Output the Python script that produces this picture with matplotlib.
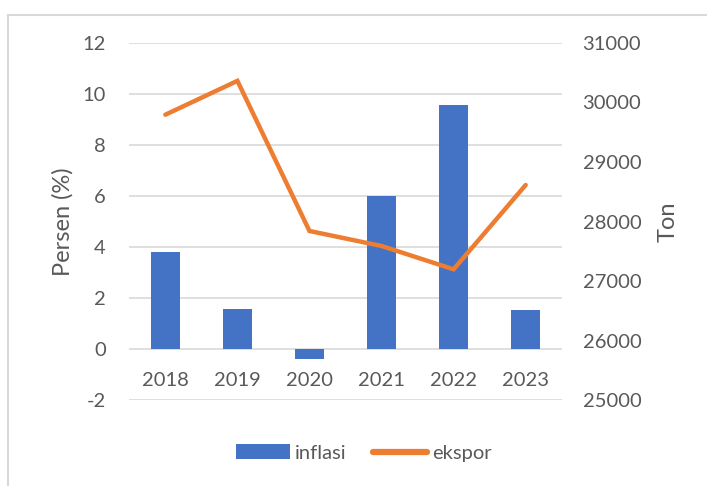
import matplotlib
matplotlib.use("Agg")
import matplotlib.pyplot as plt
from matplotlib.patches import Rectangle, Patch
from matplotlib.lines import Line2D

years = ["2018", "2019", "2020", "2021", "2022", "2023"]
inflasi = [3.81, 1.58, -0.39, 5.99, 9.55, 1.53]
ekspor = [29792, 30360, 27842, 27590, 27199, 28613]

left_ticks = [-2, 0, 2, 4, 6, 8, 10, 12]
right_ticks = [25000, 26000, 27000, 28000, 29000, 30000, 31000]

TXT = "#595959"
GRID = "#d9d9d9"
BLUE = "#4472c4"
ORANGE = "#ed7d31"
FONT = ["Lato", "DejaVu Sans"]

plt.rcParams["font.family"] = FONT

fig = plt.figure(figsize=(7.07, 4.86), dpi=100)
fig.patches.append(Rectangle((8 / 707, -0.1), 1.2, 1 - 15 / 486 + 0.1,
                             transform=fig.transFigure, fill=False,
                             edgecolor="#d9d9d9", linewidth=1.5))

ax = fig.add_axes([129.3 / 707, 1 - 400.4 / 486, 432.4 / 707, 357.7 / 486])
x = list(range(len(years)))
ax.set_ylim(-2, 12)
ax.set_xlim(-0.5, len(years) - 0.5)
ax.set_yticks(left_ticks)
ax.set_yticklabels([str(t) for t in left_ticks])
ax.grid(axis="y", color=GRID, linewidth=1.2, zorder=0)
ax.set_axisbelow(True)
ax.bar(x, inflasi, width=0.40, color=BLUE, zorder=2)
for s in ax.spines.values():
    s.set_visible(False)
ax.spines["bottom"].set_position(("data", 0))
ax.set_xticks(x)
ax.set_xticklabels(years)
ax.tick_params(axis="x", length=0, pad=16, labelsize=14.5, labelcolor=TXT)
ax.tick_params(axis="y", length=0, pad=17, labelsize=14.5, labelcolor=TXT)
ax.set_ylabel("Persen (%)", fontsize=17, color=TXT, labelpad=6)

ax2 = ax.twinx()
ax2.set_ylim(25000, 31000)
ax2.set_yticks(right_ticks)
ax2.set_yticklabels([str(t) for t in right_ticks])
ax2.plot(x, ekspor, color=ORANGE, linewidth=3.2, solid_capstyle="round",
         solid_joinstyle="miter", zorder=3)
for s in ax2.spines.values():
    s.set_visible(False)
ax2.tick_params(axis="y", length=0, pad=15, labelsize=14.5, labelcolor=TXT)
ax2.set_ylabel("Ton", fontsize=17, color=TXT, labelpad=12)

handles = [Patch(facecolor=BLUE, edgecolor="none"),
           Line2D([0], [0], color=ORANGE, linewidth=4.5, solid_capstyle="round")]
fig.legend(handles, ["inflasi", "ekspor"], loc="center",
           bbox_to_anchor=(364 / 707, 1 - 453 / 486), ncol=2, frameon=False,
           fontsize=14.5, labelcolor=TXT, handlelength=2.7, handleheight=0.75,
           handletextpad=0.25, columnspacing=1.3)

fig.savefig("out.png", dpi=100)
